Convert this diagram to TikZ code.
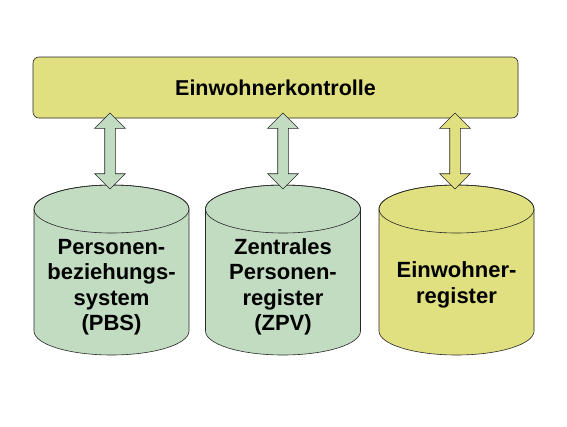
\documentclass[tikz,border=0pt]{standalone}
\usepackage{fontspec}
\setmainfont{Liberation Sans}
\usetikzlibrary{shapes.arrows}
\definecolor{boxyellow}{RGB}{224,224,128}
\definecolor{cylgreen}{RGB}{193,220,193}
\definecolor{edge}{RGB}{40,40,40}
\tikzset{
  outl/.style={draw=edge, line width=0.6pt},
  topbox/.style={outl, fill=boxyellow, rounded corners=6pt, minimum width=485pt, minimum height=61pt, inner sep=0pt, font=\bfseries\fontsize{21.5}{24}\selectfont},
  cyltext/.style={align=center, inner sep=0pt, font=\bfseries\fontsize{22}{25.5}\selectfont},
  dblarrow/.style={outl, shape=double arrow, rotate=90, minimum height=76pt, inner xsep=0pt, inner ysep=5pt, double arrow head extend=10pt, double arrow tip angle=90}
}
\begin{document}
\begin{tikzpicture}[x=1pt,y=-1pt]
\useasboundingbox (0,0) rectangle (567,426);
\node[topbox] (ek) at (275.5,87.5) {Einwohnerkontrolle};
% cylinders
\foreach \cx/\col in {111.5/cylgreen, 283/cylgreen, 456.5/boxyellow}{
  \path[outl, fill=\col] (\cx-77.5,209) -- (\cx-77.5,331) arc[start angle=180,end angle=0,x radius=77.5,y radius=24] -- (\cx+77.5,209) arc[start angle=0,end angle=-180,x radius=77.5,y radius=24] -- cycle;
  \draw[outl] (\cx,209) ellipse[x radius=77.5,y radius=24];
}
\node[cyltext] (pbs) at (111.5,287) {Personen-\\beziehungs-\\system\\(PBS)};
\node[cyltext] (zpv) at (283,287) {Zentrales\\Personen-\\register\\(ZPV)};
\node[cyltext] (ewr) at (456.5,285) {Einwohner-\\register};
% arrows
\node[dblarrow, fill=cylgreen] (a1) at (110,151) {};
\node[dblarrow, fill=cylgreen] (a2) at (283,151) {};
\node[dblarrow, fill=boxyellow] (a3) at (455,151) {};
\end{tikzpicture}
\end{document}
